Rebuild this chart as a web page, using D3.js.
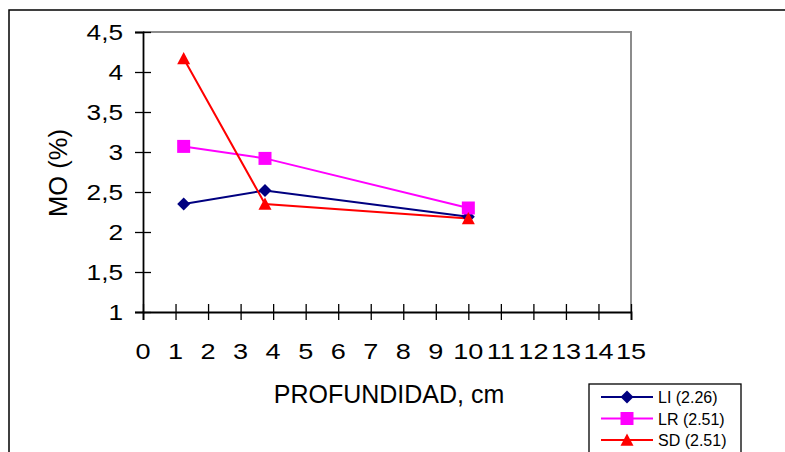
<!DOCTYPE html>
<html>
<head>
<meta charset="utf-8">
<script src="https://cdn.jsdelivr.net/npm/d3@7"></script>
<style>
  html, body { margin: 0; padding: 0; background: #fff; }
  svg { display: block; }
  text { font-family: "Liberation Sans", Arial, sans-serif; fill: #000; }
</style>
</head>
<body>
<svg id="chart" width="785" height="452"></svg>
<script>
// Soil organic matter (MO, %) by depth for three sites
const depths = [1.25, 3.75, 10];
const seriesNames = ["LI (2.26)", "LR (2.51)", "SD (2.51)"];
const valuesLI = [2.35, 2.52, 2.19];
const valuesLR = [3.07, 2.92, 2.30];
const valuesSD = [4.17, 2.35, 2.17];
const xTicks = d3.range(0, 16, 1);
const yTicks = [1, 1.5, 2, 2.5, 3, 3.5, 4, 4.5];
const xTitle = "PROFUNDIDAD, cm";
const yTitle = "MO (%)";

const series = [
  { name: seriesNames[0], values: valuesLI, color: "#000080", marker: "diamond" },
  { name: seriesNames[1], values: valuesLR, color: "#FF00FF", marker: "square" },
  { name: seriesNames[2], values: valuesSD, color: "#FF0000", marker: "triangle" }
];

const svg = d3.select("#chart");
const plot = { left: 143, top: 32, right: 631, bottom: 312 };

const x = d3.scaleLinear().domain([0, 15]).range([plot.left, plot.right]);
const y = d3.scaleLinear().domain([1, 4.5]).range([plot.bottom, plot.top]);

// Outer chart frame (runs past the visible window on right and bottom)
svg.append("rect")
  .attr("x", 9).attr("y", 10).attr("width", 820).attr("height", 480)
  .attr("fill", "none").attr("stroke", "#000").attr("stroke-width", 1.5);

// Plot area frame: grey top and right edges
svg.append("path")
  .attr("d", `M${plot.left},${plot.top}H${plot.right}V${plot.bottom}`)
  .attr("fill", "none").attr("stroke", "#8c8c8c").attr("stroke-width", 2);

// Marker shapes
function markerPath(type, s) {
  const h = s / 2;
  if (type === "diamond") return `M0,${-h}L${h},0L0,${h}L${-h},0Z`;
  if (type === "square") return `M${-h},${-h}H${h}V${h}H${-h}Z`;
  return `M0,${-h}L${h},${h * 0.9}L${-h},${h * 0.9}Z`;
}

// Y axis
const yAxis = svg.append("g")
  .attr("transform", `translate(${plot.left},0)`)
  .call(d3.axisLeft(y).tickValues(yTicks).tickSize(8).tickFormat(() => ""));
yAxis.select(".domain").attr("stroke", "#000").attr("stroke-width", 1.8);
yAxis.selectAll(".tick line").attr("x1", -8).attr("x2", 8)
  .attr("stroke", "#000").attr("stroke-width", 1.3);

// X axis
const xAxis = svg.append("g")
  .attr("transform", `translate(0,${plot.bottom})`)
  .call(d3.axisBottom(x).tickValues(xTicks).tickSize(8).tickFormat(() => ""));
xAxis.select(".domain").attr("stroke", "#000").attr("stroke-width", 1.8);
xAxis.selectAll(".tick line").attr("y1", -8).attr("y2", 8)
  .attr("stroke", "#000").attr("stroke-width", 1.3);

// Tick labels (wide Arial-like digits)
const fmt = v => String(v).replace(".", ",");
svg.append("g").selectAll("text").data(yTicks).join("text")
  .attr("transform", d => `translate(123,${y(d) + 7.5}) scale(1.22,1)`)
  .attr("text-anchor", "end")
  .attr("font-size", 21.5)
  .text(fmt);

svg.append("g").selectAll("text").data(xTicks).join("text")
  .attr("transform", d => `translate(${x(d)},358.5) scale(1.26,1)`)
  .attr("text-anchor", "middle")
  .attr("font-size", 21.5)
  .text(fmt);

// Axis titles
svg.append("text")
  .attr("x", 389).attr("y", 403)
  .attr("text-anchor", "middle")
  .attr("font-size", 25)
  .text(xTitle);

svg.append("text")
  .attr("transform", `translate(67,173) rotate(-90)`)
  .attr("text-anchor", "middle")
  .attr("font-size", 25.5)
  .text(yTitle);

// Series lines and markers
const line = d3.line().x((d, i) => x(depths[i])).y(d => y(d));
series.forEach(s => {
  svg.append("path")
    .attr("d", line(s.values))
    .attr("fill", "none")
    .attr("stroke", s.color)
    .attr("stroke-width", 2);
});
series.forEach(s => {
  svg.append("g").selectAll("path").data(s.values).join("path")
    .attr("transform", (d, i) => `translate(${x(depths[i])},${y(d)})`)
    .attr("d", markerPath(s.marker, 13))
    .attr("fill", s.color);
});

// Legend
const legend = svg.append("g");
legend.append("rect")
  .attr("x", 589).attr("y", 384).attr("width", 152).attr("height", 90)
  .attr("fill", "#fff").attr("stroke", "#000").attr("stroke-width", 1.3);
const rowY = [397, 418.5, 440];
series.forEach((s, i) => {
  const g = legend.append("g").attr("transform", `translate(0,${rowY[i]})`);
  g.append("line").attr("x1", 601).attr("x2", 653)
    .attr("stroke", s.color).attr("stroke-width", 2);
  g.append("path").attr("transform", "translate(627,0)")
    .attr("d", markerPath(s.marker, 13)).attr("fill", s.color);
  g.append("text").attr("x", 658).attr("y", 6)
    .attr("font-size", 16).text(s.name);
});
</script>
</body>
</html>
